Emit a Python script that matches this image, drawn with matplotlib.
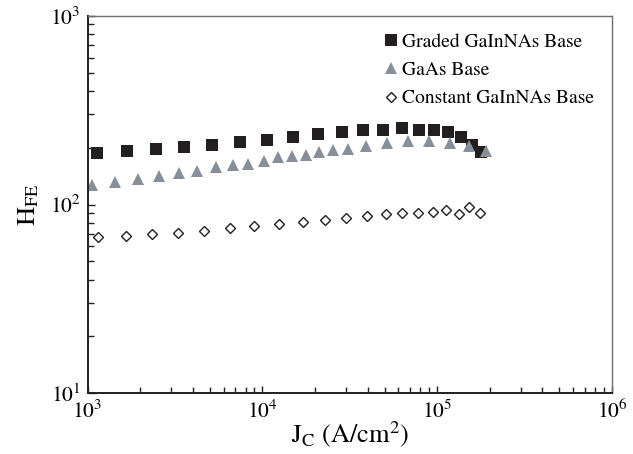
import numpy as np
import matplotlib
matplotlib.use("Agg")
import matplotlib.pyplot as plt
from matplotlib.ticker import LogLocator, NullFormatter

plt.rcParams['font.family'] = 'STIXGeneral'
plt.rcParams['mathtext.fontset'] = 'stix'

# Current gain vs collector current density for the three base designs
jc_graded = [1135, 1671, 2449, 3569, 5142, 7434, 10570, 14890, 20690, 28390,
             37830, 49220, 63220, 78600, 96390, 115600, 136600, 157900, 179000]
hfe_graded = [186.7, 191.9, 196.8, 200.9, 207.3, 214.3, 220.4, 227.8, 235.4, 242.1,
              247.2, 249.6, 253.3, 248.7, 249.6, 241.2, 227.3, 205.8, 189.0]

jc_gaas = [1054, 1433, 1932, 2548, 3316, 4236, 5398, 6753, 8294, 10160, 12310,
           14750, 17670, 21050, 25410, 31050, 39090, 51340, 68270, 90000, 118200,
           152500, 189900]
hfe_gaas = [126.9, 132.1, 136.5, 141.6, 146.3, 151.1, 157.4, 161.9, 163.3, 170.0,
            177.8, 180.7, 183.6, 189.0, 193.7, 196.8, 203.4, 211.0, 215.7, 215.7,
            212.6, 203.4, 193.2]

jc_const = [1150, 1650, 2323, 3273, 4627, 6519, 8942, 12430, 16980, 22790, 30030,
            39460, 50680, 63220, 77890, 94870, 112900, 132600, 152500, 175500]
hfe_const = [67.3, 68.4, 69.6, 70.9, 72.7, 74.8, 76.9, 78.8, 80.7, 82.8, 84.8,
             86.9, 88.7, 89.8, 89.8, 91.3, 93.2, 89.0, 96.5, 90.1]

fig = plt.figure(figsize=(6.33, 4.54), dpi=100)
ax = fig.add_axes([0.1385, 0.1337, 0.8283, 0.8317])

ax.plot(jc_graded, hfe_graded, 's', color='#231f20', ms=8.5, mew=0,
        label='Graded GaInNAs Base')
ax.plot(jc_gaas, hfe_gaas, '^', color='#87909a', ms=8.5, mew=0,
        label='GaAs Base')
ax.plot(jc_const, hfe_const, 'D', mfc='white', mec='#231f20', ms=5.6, mew=1.0,
        label='Constant GaInNAs Base')

ax.set_xscale('log')
ax.set_yscale('log')
ax.set_xlim(1e3, 1e6)
ax.set_ylim(1e1, 1e3)

ax.xaxis.set_minor_locator(LogLocator(base=10, subs=np.arange(2, 10)))
ax.yaxis.set_minor_locator(LogLocator(base=10, subs=np.arange(2, 10)))
ax.xaxis.set_minor_formatter(NullFormatter())
ax.yaxis.set_minor_formatter(NullFormatter())

ax.tick_params(which='both', direction='in', top=False, right=False,
               labelsize=15.5, width=1, color='#231f20')
ax.tick_params(which='major', length=5, pad=5)
ax.tick_params(which='minor', length=4)

for side in ('left', 'bottom'):
    ax.spines[side].set_linewidth(1.4)
    ax.spines[side].set_color('#231f20')
for side in ('top', 'right'):
    ax.spines[side].set_linewidth(1.0)
    ax.spines[side].set_color('#6e6e6e')

ax.set_xlabel(r'J$_{\rm C}$ (A/cm$^2$)', fontsize=19, labelpad=-3)
ax.set_ylabel(r'H$_{\rm FE}$', fontsize=19, labelpad=6)

ax.legend(loc='upper right', frameon=False, fontsize=14, handletextpad=0.1,
          handlelength=1.0, borderaxespad=0.5, labelspacing=0.55)

fig.savefig('out.png', dpi=100)
